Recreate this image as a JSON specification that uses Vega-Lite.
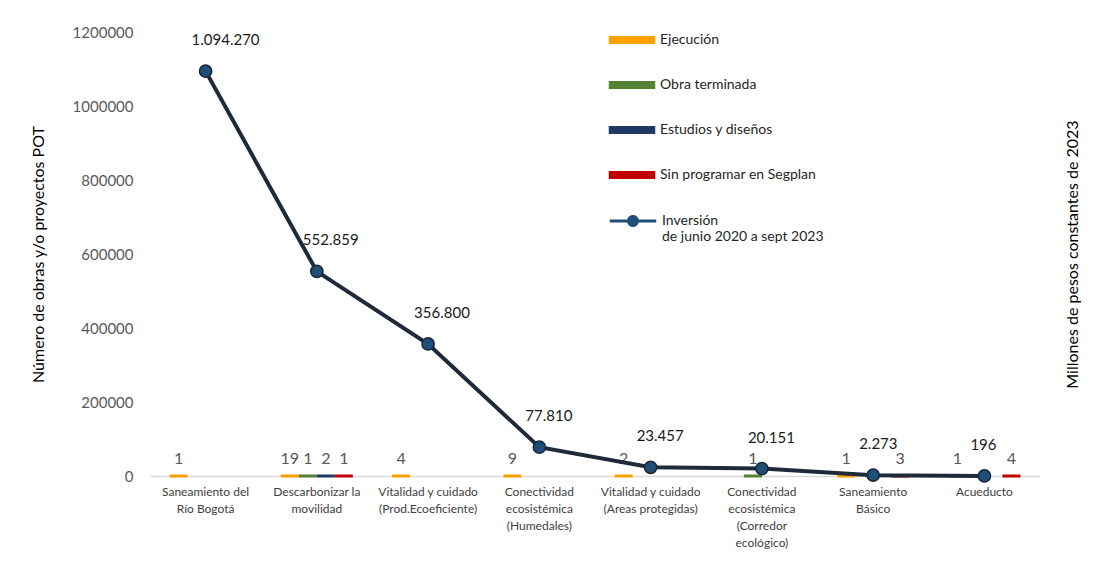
{
  "$schema": "https://vega.github.io/schema/vega-lite/v6.json",
  "width": 890,
  "height": 444,
  "autosize": "none",
  "padding": {"left": 150, "top": 32, "right": 73, "bottom": 100},
  "background": "white",
  "config": {
    "view": {"stroke": null},
    "font": "Lato",
    "locale": {"number": {"decimal": ",", "thousands": ".", "grouping": [3], "currency": ["$", ""]}},
    "axisX": {
      "domainColor": "#d9d9d9",
      "domainWidth": 1.5,
      "ticks": false,
      "grid": false,
      "labelFontSize": 12,
      "labelColor": "#404040",
      "labelPadding": 10,
      "labelAngle": 0,
      "labelLineHeight": 17,
      "labelBaseline": "top",
      "labelExpr": "split(datum.label, '|')",
      "title": null
    }
  },
  "datasets": {
    "obras": [
      {"categoria": "Saneamiento del|Río Bogotá", "estado": "Ejecución", "obras": 1},
      {"categoria": "Descarbonizar la|movilidad", "estado": "Ejecución", "obras": 19},
      {"categoria": "Descarbonizar la|movilidad", "estado": "Obra terminada", "obras": 1},
      {"categoria": "Descarbonizar la|movilidad", "estado": "Estudios y diseños", "obras": 2},
      {"categoria": "Descarbonizar la|movilidad", "estado": "Sin programar en Segplan", "obras": 1},
      {"categoria": "Vitalidad y cuidado|(Prod.Ecoeficiente)", "estado": "Ejecución", "obras": 4},
      {"categoria": "Conectividad|ecosistémica|(Humedales)", "estado": "Ejecución", "obras": 9},
      {"categoria": "Vitalidad y cuidado|(Areas protegidas)", "estado": "Ejecución", "obras": 2},
      {"categoria": "Conectividad|ecosistémica|(Corredor|ecológico)", "estado": "Obra terminada", "obras": 1},
      {"categoria": "Saneamiento|Básico", "estado": "Ejecución", "obras": 1},
      {"categoria": "Saneamiento|Básico", "estado": "Sin programar en Segplan", "obras": 3},
      {"categoria": "Acueducto", "estado": "Ejecución", "obras": 1},
      {"categoria": "Acueducto", "estado": "Sin programar en Segplan", "obras": 4}
    ],
    "inversion": [
      {"categoria": "Saneamiento del|Río Bogotá", "inversion": 1094270},
      {"categoria": "Descarbonizar la|movilidad", "inversion": 552859},
      {"categoria": "Vitalidad y cuidado|(Prod.Ecoeficiente)", "inversion": 356800},
      {"categoria": "Conectividad|ecosistémica|(Humedales)", "inversion": 77810},
      {"categoria": "Vitalidad y cuidado|(Areas protegidas)", "inversion": 23457},
      {"categoria": "Conectividad|ecosistémica|(Corredor|ecológico)", "inversion": 20151},
      {"categoria": "Saneamiento|Básico", "inversion": 2273},
      {"categoria": "Acueducto", "inversion": 196}
    ]
  },
  "resolve": {"axis": {"y": "independent"}},
  "layer": [
    {
      "data": {"name": "obras"},
      "mark": {"type": "tick", "thickness": 3, "size": 18, "orient": "horizontal", "opacity": 1},
      "encoding": {
        "x": {
          "field": "categoria",
          "type": "nominal",
          "scale": {
            "domain": ["Saneamiento del|Río Bogotá", "Descarbonizar la|movilidad", "Vitalidad y cuidado|(Prod.Ecoeficiente)", "Conectividad|ecosistémica|(Humedales)", "Vitalidad y cuidado|(Areas protegidas)", "Conectividad|ecosistémica|(Corredor|ecológico)", "Saneamiento|Básico", "Acueducto"],
            "paddingInner": 0.353,
            "paddingOuter": 0.176
          }
        },
        "xOffset": {
          "field": "estado",
          "type": "nominal",
          "scale": {"domain": ["Ejecución", "Obra terminada", "Estudios y diseños", "Sin programar en Segplan"], "paddingInner": 0, "paddingOuter": 0}
        },
        "y": {
          "field": "obras",
          "type": "quantitative",
          "scale": {"domain": [0, 1200000], "nice": false},
          "axis": {
            "orient": "left",
            "title": "Número de obras y/o proyectos POT",
            "titleFontSize": 16,
            "titleFontWeight": "normal",
            "titleColor": "#000000",
            "titleFont": "Lato",
            "titlePadding": 26,
            "values": [0, 200000, 400000, 600000, 800000, 1000000, 1200000],
            "format": "d",
            "labelFontSize": 15,
            "labelColor": "#595959",
            "labelPadding": 17,
            "ticks": false,
            "domain": false,
            "grid": false
          }
        },
        "color": {
          "field": "estado",
          "type": "nominal",
          "scale": {
            "domain": ["Ejecución", "Obra terminada", "Estudios y diseños", "Sin programar en Segplan"],
            "range": ["#FFA000", "#548235", "#1F3864", "#C00000"]
          },
          "legend": {
            "title": null,
            "orient": "none",
            "legendX": 467,
            "legendY": -7,
            "padding": 0,
            "rowPadding": 23,
            "symbolSize": 900,
            "symbolOpacity": 1,
            "symbolStrokeWidth": 0,
            "symbolType": "M-1.55,-0.27H1.55V0.27H-1.55Z",
            "labelFontSize": 14,
            "labelColor": "#262626",
            "labelFont": "Lato",
            "labelOffset": 13,
            "labelLimit": 300
          }
        }
      }
    },
    {
      "data": {"name": "obras"},
      "mark": {"type": "text", "dy": -17, "fontSize": 16, "color": "#595959", "font": "Lato"},
      "encoding": {
        "x": {"field": "categoria", "type": "nominal"},
        "xOffset": {"field": "estado", "type": "nominal"},
        "y": {"field": "obras", "type": "quantitative", "axis": null},
        "text": {"field": "obras", "type": "quantitative"}
      }
    },
    {
      "data": {"name": "inversion"},
      "mark": {"type": "line", "strokeWidth": 4, "color": "#1E2A3A"},
      "encoding": {
        "x": {"field": "categoria", "type": "nominal"},
        "y": {
          "field": "inversion",
          "type": "quantitative",
          "axis": {
            "orient": "right",
            "title": "Millones de pesos constantes de 2023",
            "titleFontSize": 16,
            "titleFontWeight": "normal",
            "titleColor": "#000000",
            "titleFont": "Lato",
            "titleAngle": 270,
            "titlePadding": 40,
            "labels": false,
            "ticks": false,
            "domain": false,
            "grid": false
          }
        }
      }
    },
    {
      "data": {"name": "inversion"},
      "mark": {"type": "point", "filled": true, "fill": "#1F4E79", "fillOpacity": 1, "size": 150, "stroke": "#1c2533", "strokeWidth": 1.5, "opacity": 1},
      "encoding": {
        "x": {"field": "categoria", "type": "nominal"},
        "y": {"field": "inversion", "type": "quantitative", "axis": null}
      }
    },
    {
      "data": {"name": "inversion"},
      "mark": {"type": "point", "filled": true, "fill": "#1F4E79", "stroke": "#1c2533", "strokeWidth": 1.5, "opacity": 0},
      "encoding": {
        "x": {"field": "categoria", "type": "nominal"},
        "y": {"field": "inversion", "type": "quantitative", "axis": null},
        "shape": {
          "datum": "Inversión",
          "scale": {"domain": ["Inversión"], "range": ["M-1.55,-0.1H1.55V0.1H-1.55Z M0.4,0A0.4,0.4 0 1,1 -0.4,0A0.4,0.4 0 1,1 0.4,0Z"]},
          "legend": {
            "title": null,
            "orient": "none",
            "legendX": 467,
            "legendY": 173,
            "padding": 0,
            "symbolSize": 900,
            "symbolOpacity": 1,
            "symbolStrokeWidth": 1.5,
            "symbolFillColor": "#1F4E79",
            "symbolStrokeColor": "#1c2533",
            "labelFontSize": 14,
            "labelColor": "#262626",
            "labelFont": "Lato",
            "labelOffset": 13,
            "labelLimit": 300,
            "labelExpr": "['Inversión', 'de junio 2020 a sept 2023']"
          }
        }
      }
    },
    {
      "data": {"name": "inversion"},
      "mark": {"type": "text", "align": "left", "dx": -14, "dy": -31, "fontSize": 15, "color": "#1a1a1a", "font": "Lato"},
      "encoding": {
        "x": {"field": "categoria", "type": "nominal"},
        "y": {"field": "inversion", "type": "quantitative", "axis": null},
        "text": {"field": "inversion", "type": "quantitative", "format": ",d"}
      }
    }
  ]
}
